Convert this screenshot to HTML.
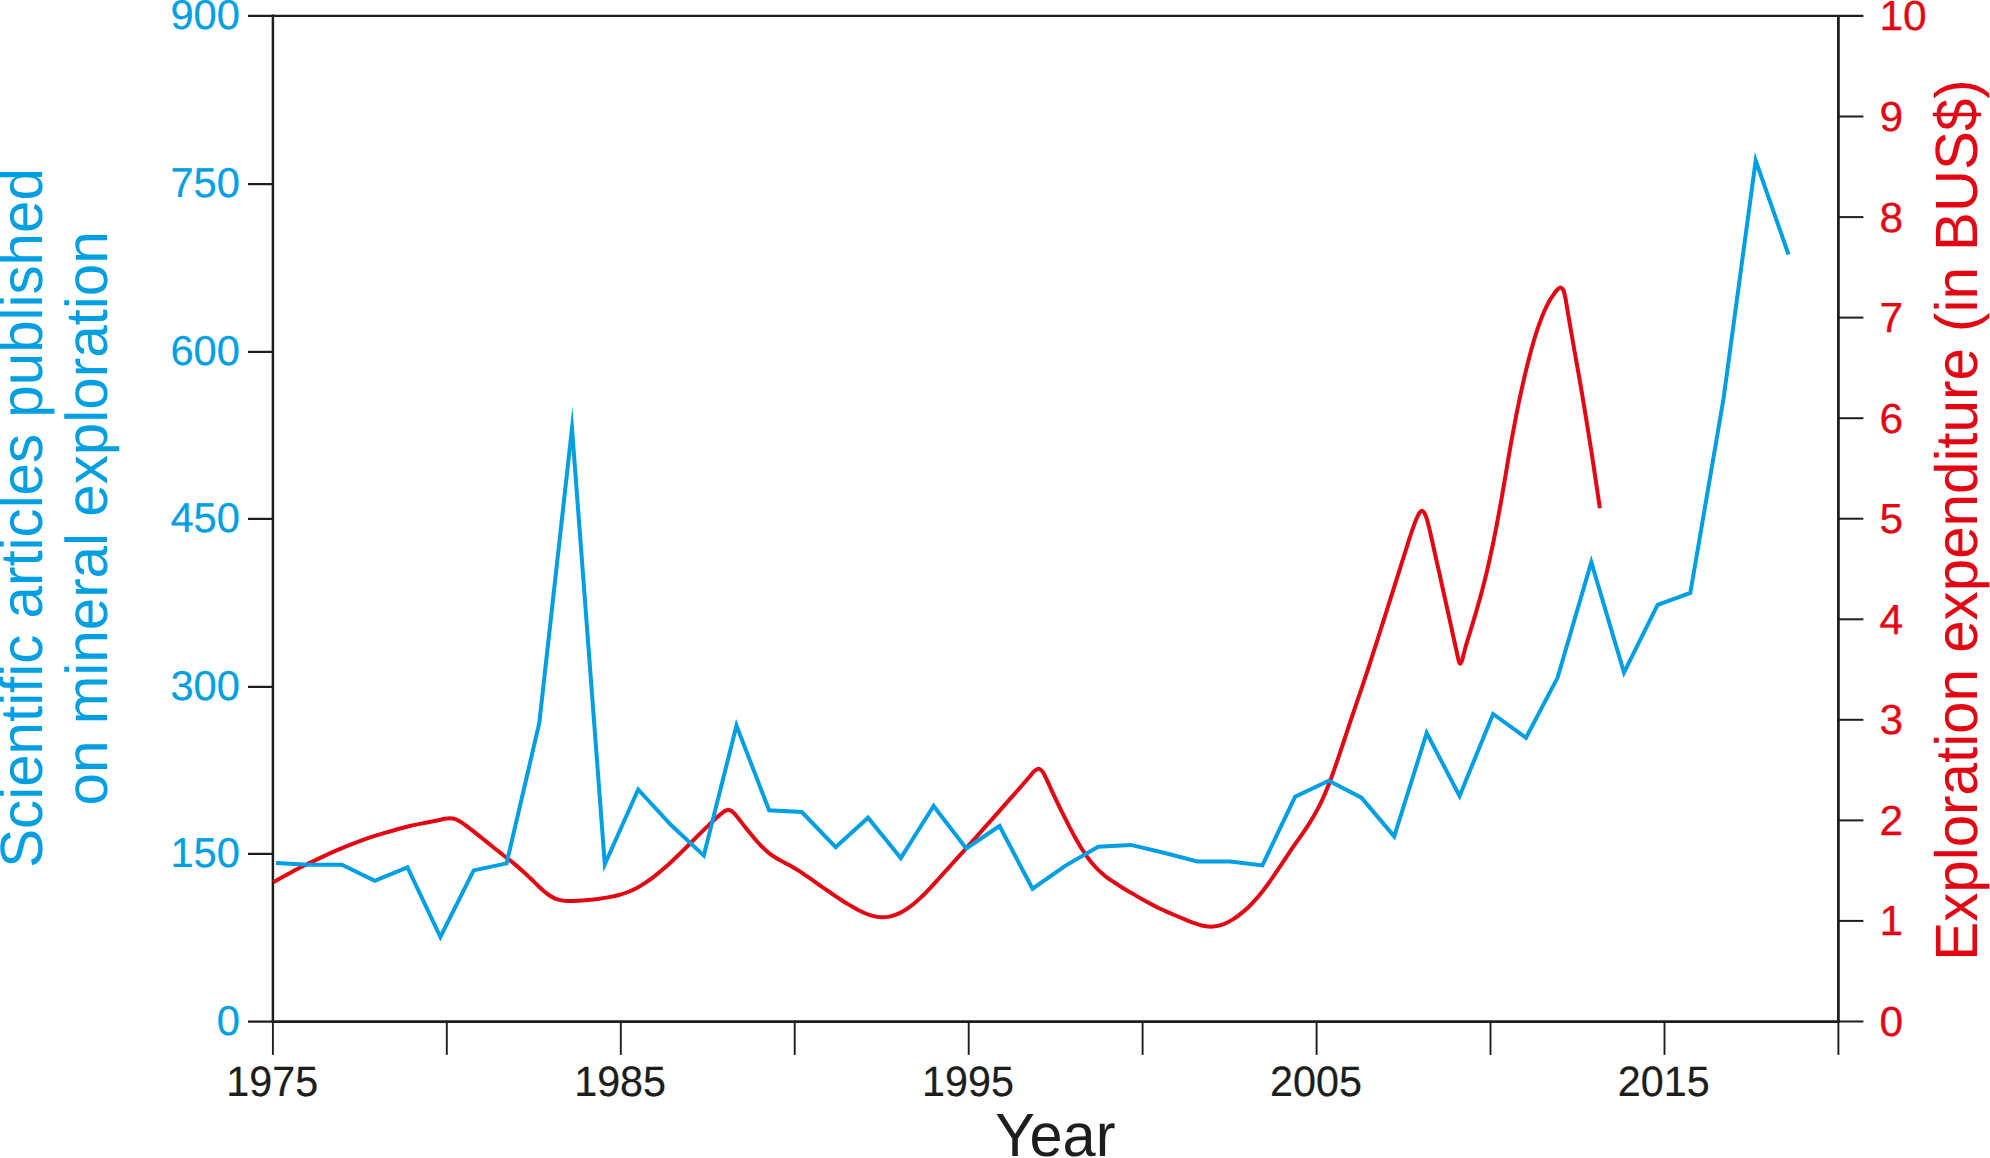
<!DOCTYPE html>
<html lang="en"><head><meta charset="utf-8"><title>Scientific articles vs exploration expenditure</title>
<style>html,body{margin:0;padding:0;background:#fff}body{width:1990px;height:1158px;overflow:hidden}svg{display:block}text{font-family:"Liberation Sans",Arial,Helvetica,sans-serif;text-rendering:geometricPrecision}</style></head><body>
<svg width="1990" height="1158" viewBox="0 0 1990 1158">
<rect width="1990" height="1158" fill="#fff"/>
<g stroke="#1d1d1b" fill="none" stroke-linecap="butt">
<path d="M248 15.95 H1863.4" stroke-width="2.2"/>
<path d="M272.9 14.6 V1021.5" stroke-width="2.5"/>
<path d="M1838.4 14.9 V1021.5" stroke-width="2.75"/>
<path d="M271.6 1021.5 H1839.8" stroke-width="2.75"/>
<g stroke-width="2.25">
<path d="M248 184.1 H272.9"/>
<path d="M248 351.9 H272.9"/>
<path d="M248 518.9 H272.9"/>
<path d="M248 686.9 H272.9"/>
<path d="M248 853.9 H272.9"/>
<path d="M248 1021.6 H272.9"/>
</g><g stroke-width="2">
<path d="M1838.4 116.5 H1863.4"/>
<path d="M1838.4 217.1 H1863.4"/>
<path d="M1838.4 317.6 H1863.4"/>
<path d="M1838.4 418.2 H1863.4"/>
<path d="M1838.4 518.7 H1863.4"/>
<path d="M1838.4 619.3 H1863.4"/>
<path d="M1838.4 719.8 H1863.4"/>
<path d="M1838.4 820.4 H1863.4"/>
<path d="M1838.4 920.9 H1863.4"/>
<path d="M1838.4 1021.5 H1863.4"/>
</g><g stroke-width="1.9">
<path d="M272.9 1021.5 V1054.9"/>
<path d="M446.8 1021.5 V1054.9"/>
<path d="M620.8 1021.5 V1054.9"/>
<path d="M794.7 1021.5 V1054.9"/>
<path d="M968.7 1021.5 V1054.9"/>
<path d="M1142.6 1021.5 V1054.9"/>
<path d="M1316.6 1021.5 V1054.9"/>
<path d="M1490.5 1021.5 V1054.9"/>
<path d="M1664.5 1021.5 V1054.9"/>
<path d="M1838.4 1021.5 V1054.9"/>
</g></g>
<text transform="translate(240.0 28.9) scale(1.0000 1.0000)" font-size="41.7" fill="#009fe3" stroke="#009fe3" stroke-width="0.20" stroke-linejoin="round" text-anchor="end">900</text>
<text transform="translate(240.0 197.1) scale(1.0000 1.0000)" font-size="41.7" fill="#009fe3" stroke="#009fe3" stroke-width="0.20" stroke-linejoin="round" text-anchor="end">750</text>
<text transform="translate(240.0 364.9) scale(1.0000 1.0000)" font-size="41.7" fill="#009fe3" stroke="#009fe3" stroke-width="0.20" stroke-linejoin="round" text-anchor="end">600</text>
<text transform="translate(240.0 531.9) scale(1.0000 1.0000)" font-size="41.7" fill="#009fe3" stroke="#009fe3" stroke-width="0.20" stroke-linejoin="round" text-anchor="end">450</text>
<text transform="translate(240.0 699.9) scale(1.0000 1.0000)" font-size="41.7" fill="#009fe3" stroke="#009fe3" stroke-width="0.20" stroke-linejoin="round" text-anchor="end">300</text>
<text transform="translate(240.0 866.9) scale(1.0000 1.0000)" font-size="41.7" fill="#009fe3" stroke="#009fe3" stroke-width="0.20" stroke-linejoin="round" text-anchor="end">150</text>
<text transform="translate(240.0 1034.6) scale(1.0000 1.0000)" font-size="41.7" fill="#009fe3" stroke="#009fe3" stroke-width="0.20" stroke-linejoin="round" text-anchor="end">0</text>
<text transform="translate(1879.4 30.4) scale(1.0000 0.9900)" font-size="42.5" fill="#e30613" stroke="#e30613" stroke-width="0.30" stroke-linejoin="round" text-anchor="start">10</text>
<text transform="translate(1879.4 131.0) scale(1.0000 0.9900)" font-size="42.5" fill="#e30613" stroke="#e30613" stroke-width="0.30" stroke-linejoin="round" text-anchor="start">9</text>
<text transform="translate(1879.4 231.6) scale(1.0000 0.9900)" font-size="42.5" fill="#e30613" stroke="#e30613" stroke-width="0.30" stroke-linejoin="round" text-anchor="start">8</text>
<text transform="translate(1879.4 332.1) scale(1.0000 0.9900)" font-size="42.5" fill="#e30613" stroke="#e30613" stroke-width="0.30" stroke-linejoin="round" text-anchor="start">7</text>
<text transform="translate(1879.4 432.7) scale(1.0000 0.9900)" font-size="42.5" fill="#e30613" stroke="#e30613" stroke-width="0.30" stroke-linejoin="round" text-anchor="start">6</text>
<text transform="translate(1879.4 533.2) scale(1.0000 0.9900)" font-size="42.5" fill="#e30613" stroke="#e30613" stroke-width="0.30" stroke-linejoin="round" text-anchor="start">5</text>
<text transform="translate(1879.4 633.8) scale(1.0000 0.9900)" font-size="42.5" fill="#e30613" stroke="#e30613" stroke-width="0.30" stroke-linejoin="round" text-anchor="start">4</text>
<text transform="translate(1879.4 734.3) scale(1.0000 0.9900)" font-size="42.5" fill="#e30613" stroke="#e30613" stroke-width="0.30" stroke-linejoin="round" text-anchor="start">3</text>
<text transform="translate(1879.4 834.9) scale(1.0000 0.9900)" font-size="42.5" fill="#e30613" stroke="#e30613" stroke-width="0.30" stroke-linejoin="round" text-anchor="start">2</text>
<text transform="translate(1879.4 935.4) scale(1.0000 0.9900)" font-size="42.5" fill="#e30613" stroke="#e30613" stroke-width="0.30" stroke-linejoin="round" text-anchor="start">1</text>
<text transform="translate(1879.4 1036.0) scale(1.0000 0.9900)" font-size="42.5" fill="#e30613" stroke="#e30613" stroke-width="0.30" stroke-linejoin="round" text-anchor="start">0</text>
<text transform="translate(272.2 1096.0) scale(0.9720 1.0000)" font-size="42.5" fill="#1d1d1b" stroke="#1d1d1b" stroke-width="0.20" stroke-linejoin="round" text-anchor="middle">1975</text>
<text transform="translate(620.1 1096.0) scale(0.9720 1.0000)" font-size="42.5" fill="#1d1d1b" stroke="#1d1d1b" stroke-width="0.20" stroke-linejoin="round" text-anchor="middle">1985</text>
<text transform="translate(968.0 1096.0) scale(0.9720 1.0000)" font-size="42.5" fill="#1d1d1b" stroke="#1d1d1b" stroke-width="0.20" stroke-linejoin="round" text-anchor="middle">1995</text>
<text transform="translate(1315.9 1096.0) scale(0.9720 1.0000)" font-size="42.5" fill="#1d1d1b" stroke="#1d1d1b" stroke-width="0.20" stroke-linejoin="round" text-anchor="middle">2005</text>
<text transform="translate(1663.8 1096.0) scale(0.9720 1.0000)" font-size="42.5" fill="#1d1d1b" stroke="#1d1d1b" stroke-width="0.20" stroke-linejoin="round" text-anchor="middle">2015</text>
<text transform="translate(1055.4 1156.3) scale(0.9950 1.0200)" font-size="59.8" fill="#1d1d1b" text-anchor="middle">Year</text>
<text transform="translate(42.0 518.0) rotate(-90) scale(0.9876 1.0120)" font-size="59.0" fill="#009fe3" text-anchor="middle">Scientific articles published</text>
<text transform="translate(106.9 518.4) rotate(-90) scale(0.9891 1.0000)" font-size="59.0" fill="#009fe3" text-anchor="middle">on mineral exploration</text>
<text transform="translate(1977.2 520.0) rotate(-90) scale(0.9882 1.0120)" font-size="59.0" fill="#e30613" text-anchor="middle">Exploration expenditure (in BUS$)</text>
<path d="M273.1 882.2 C279.6 878.6 286.1 874.9 292.7 871.4 C298.5 868.3 304.4 865.5 310.3 862.6 C318.6 858.6 326.9 854.5 335.4 850.8 C343.7 847.2 352.0 843.9 360.5 840.8 C368.8 837.8 377.2 835.2 385.6 832.7 C393.9 830.2 402.3 827.8 410.8 825.7 C416.6 824.3 422.5 823.5 428.3 822.3 C431.7 821.6 435.0 820.9 438.4 820.2 C440.5 819.8 442.5 819.2 444.6 818.8 C446.3 818.5 448.0 818.2 449.7 818.2 C451.4 818.2 453.1 818.4 454.7 818.9 C456.5 819.4 458.1 820.4 459.7 821.3 C461.9 822.6 464.0 824.1 466.0 825.6 C470.3 828.7 474.4 832.1 478.6 835.4 C482.8 838.7 486.9 842.1 491.1 845.5 C495.3 848.8 499.5 852.1 503.7 855.5 C507.5 858.4 511.3 861.4 515.0 864.4 C516.7 865.8 518.4 867.2 520.0 868.7 C522.5 870.9 525.0 873.2 527.5 875.5 C530.1 877.9 532.6 880.4 535.1 882.9 C537.6 885.2 540.0 887.7 542.6 890.0 C544.6 891.8 546.7 893.5 548.9 895.0 C550.9 896.4 553.0 897.6 555.2 898.6 C557.2 899.4 559.3 900.0 561.5 900.4 C564.0 900.9 566.5 901.0 569.0 901.0 C571.9 901.1 574.9 900.9 577.8 900.7 C581.1 900.5 584.5 900.2 587.8 899.9 C591.2 899.6 594.5 899.3 597.9 898.9 C601.2 898.5 604.6 898.0 607.9 897.4 C611.3 896.8 614.7 896.2 618.0 895.3 C621.4 894.4 624.7 893.3 628.0 892.0 C631.0 890.8 633.9 889.5 636.8 888.0 C639.8 886.4 642.7 884.6 645.6 882.7 C648.6 880.7 651.5 878.6 654.4 876.4 C657.4 874.0 660.3 871.6 663.2 869.1 C666.2 866.5 669.1 863.9 672.0 861.2 C675.0 858.4 677.9 855.6 680.8 852.8 C683.8 849.9 686.7 846.9 689.6 844.0 C692.5 841.1 695.5 838.1 698.4 835.2 C701.3 832.3 704.2 829.5 707.2 826.6 C709.7 824.2 712.2 821.8 714.7 819.5 C716.8 817.6 718.8 815.7 721.0 813.9 C722.2 812.9 723.4 811.8 724.8 811.1 C725.9 810.5 727.2 809.9 728.5 810.0 C729.9 810.1 731.2 810.7 732.3 811.6 C734.2 813.1 735.7 815.1 737.3 817.0 C740.3 820.7 743.1 824.6 746.1 828.3 C749.0 831.9 751.9 835.5 754.9 839.0 C757.3 841.8 759.8 844.6 762.5 847.2 C764.9 849.6 767.4 851.8 770.0 853.9 C772.1 855.5 774.3 856.9 776.5 858.2 C778.5 859.5 780.7 860.6 782.8 861.7 C784.9 862.9 787.0 864.0 789.1 865.1 C791.2 866.3 793.3 867.5 795.4 868.8 C797.5 870.0 799.6 871.3 801.7 872.7 C803.8 874.1 805.8 875.5 807.9 876.9 C810.0 878.3 812.1 879.8 814.2 881.3 C816.3 882.8 818.4 884.3 820.5 885.8 C822.6 887.2 824.7 888.7 826.8 890.2 C828.9 891.7 831.0 893.1 833.1 894.5 C835.2 895.9 837.2 897.3 839.3 898.7 C841.4 900.0 843.5 901.4 845.6 902.7 C847.7 904.0 849.8 905.2 851.9 906.5 C854.0 907.7 856.1 908.9 858.2 910.0 C860.3 911.0 862.4 912.1 864.5 913.0 C866.6 913.9 868.7 914.8 870.8 915.4 C872.8 916.0 874.9 916.5 877.0 916.9 C878.7 917.2 880.4 917.4 882.1 917.3 C884.6 917.3 887.1 917.0 889.6 916.6 C891.8 916.2 893.9 915.5 895.9 914.7 C898.1 913.9 900.2 912.9 902.2 911.7 C904.3 910.6 906.4 909.2 908.4 907.8 C910.6 906.3 912.7 904.7 914.7 903.0 C916.9 901.2 919.0 899.3 921.0 897.4 C923.2 895.4 925.2 893.3 927.3 891.2 C929.4 889.0 931.5 886.7 933.6 884.4 C935.7 882.1 937.7 879.8 939.8 877.5 C948.4 867.9 957.1 858.5 965.7 848.9 C976.4 836.9 987.0 824.8 997.7 812.8 C1006.1 803.4 1014.4 793.9 1022.8 784.5 C1025.4 781.6 1027.9 778.7 1030.4 775.8 C1031.8 774.1 1033.0 772.2 1034.7 770.8 C1035.8 769.8 1037.1 768.6 1038.5 768.7 C1040.0 768.8 1041.4 770.1 1042.3 771.3 C1044.2 773.8 1045.3 776.7 1046.7 779.5 C1048.5 783.2 1050.0 787.0 1051.7 790.7 C1054.6 796.9 1057.5 803.0 1060.5 809.1 C1063.4 814.9 1066.3 820.8 1069.3 826.6 C1071.7 831.3 1074.2 835.9 1076.8 840.4 C1079.6 845.3 1082.5 850.0 1085.6 854.7 C1087.5 857.6 1089.7 860.4 1091.9 863.0 C1093.9 865.4 1096.0 867.7 1098.2 869.9 C1100.2 871.8 1102.3 873.7 1104.5 875.4 C1106.5 877.1 1108.6 878.7 1110.8 880.2 C1114.9 883.0 1119.1 885.6 1123.3 888.2 C1127.4 890.8 1131.7 893.1 1135.9 895.6 C1138.1 896.9 1140.3 898.2 1142.6 899.4 C1146.7 901.7 1150.9 904.1 1155.1 906.2 C1159.2 908.3 1163.5 910.2 1167.7 912.1 C1171.9 914.0 1176.1 915.7 1180.3 917.5 C1184.5 919.2 1188.6 921.1 1192.8 922.6 C1196.1 923.8 1199.4 925.0 1202.9 925.7 C1206.2 926.3 1209.6 926.8 1212.9 926.6 C1216.3 926.4 1219.8 925.6 1223.0 924.4 C1226.5 923.1 1229.8 921.4 1233.0 919.4 C1236.6 917.2 1239.9 914.6 1243.1 911.9 C1246.6 908.9 1250.0 905.7 1253.1 902.3 C1256.7 898.6 1260.0 894.6 1263.2 890.5 C1266.7 886.0 1270.0 881.3 1273.2 876.7 C1276.7 871.7 1279.9 866.6 1283.3 861.6 C1286.6 856.7 1289.9 851.7 1293.3 846.7 C1296.6 841.9 1300.1 837.2 1303.4 832.3 C1306.0 828.6 1308.5 824.8 1310.9 820.9 C1313.1 817.3 1315.2 813.6 1317.2 809.9 C1319.0 806.6 1320.6 803.2 1322.2 799.8 C1323.7 796.7 1325.1 793.5 1326.4 790.2 C1328.2 785.9 1329.9 781.6 1331.5 777.2 C1333.2 772.6 1334.9 767.9 1336.5 763.2 C1338.6 756.9 1340.7 750.6 1342.8 744.4 C1344.9 738.1 1346.9 731.8 1349.0 725.6 C1351.1 719.3 1353.2 713.0 1355.3 706.8 C1357.4 700.6 1359.5 694.5 1361.6 688.3 C1363.7 682.1 1365.8 675.8 1367.9 669.5 C1370.5 661.5 1373.1 653.4 1375.7 645.4 C1378.0 638.1 1380.3 630.9 1382.6 623.7 C1384.7 617.2 1386.7 610.7 1388.8 604.2 C1390.9 597.5 1393.0 590.8 1395.1 584.1 C1397.2 577.4 1399.3 570.7 1401.4 564.0 C1403.5 557.4 1405.6 550.7 1407.7 544.1 C1409.3 539.0 1410.9 533.9 1412.7 528.9 C1413.9 525.5 1415.1 522.1 1416.5 518.8 C1417.4 516.7 1418.3 514.5 1419.6 512.6 C1420.2 511.7 1421.1 510.6 1422.1 510.7 C1423.3 510.8 1424.0 512.2 1424.6 513.2 C1425.8 515.4 1426.5 517.7 1427.2 520.1 C1428.4 524.3 1429.3 528.5 1430.3 532.7 C1432.0 540.2 1433.6 547.7 1435.3 555.2 C1437.0 562.8 1438.7 570.4 1440.4 577.9 C1442.1 585.4 1443.7 593.0 1445.4 600.5 C1447.1 608.0 1448.7 615.6 1450.4 623.1 C1452.0 630.4 1453.6 637.7 1455.2 645.0 C1456.0 648.7 1456.8 652.3 1457.6 656.0 C1458.0 657.9 1458.4 659.8 1459.0 661.6 C1459.3 662.4 1459.4 663.8 1460.2 663.7 C1461.1 663.6 1461.4 662.3 1461.7 661.4 C1462.5 659.4 1462.9 657.3 1463.4 655.3 C1464.3 651.9 1465.1 648.4 1466.1 645.0 C1467.5 640.2 1469.1 635.5 1470.5 630.7 C1472.6 623.7 1474.8 616.6 1476.8 609.6 C1479.0 601.9 1481.1 594.3 1483.1 586.7 C1484.9 579.9 1486.5 573.1 1488.1 566.2 C1489.9 558.6 1491.5 550.9 1493.1 543.3 C1494.4 536.9 1495.7 530.6 1496.9 524.2 C1498.4 516.2 1499.9 508.2 1501.3 500.2 C1504.7 480.8 1507.8 461.4 1511.2 442.0 C1512.8 433.2 1514.5 424.4 1516.2 415.6 C1517.2 410.5 1518.2 405.4 1519.3 400.4 C1520.5 394.6 1521.8 388.7 1523.1 382.9 C1524.3 377.5 1525.6 372.1 1526.9 366.7 C1528.1 361.8 1529.4 356.9 1530.7 351.9 C1532.1 346.8 1533.5 341.7 1535.1 336.6 C1536.4 332.2 1537.8 327.9 1539.4 323.6 C1541.0 319.3 1542.6 315.0 1544.5 310.7 C1546.0 307.4 1547.7 304.0 1549.5 300.8 C1551.0 298.2 1552.7 295.6 1554.5 293.2 C1555.6 291.6 1556.9 290.1 1558.3 288.8 C1559.0 288.2 1559.9 287.4 1560.8 287.6 C1561.9 287.9 1562.8 289.0 1563.3 290.1 C1564.3 292.3 1564.7 294.7 1565.2 297.0 C1566.2 301.8 1566.9 306.7 1567.7 311.5 C1568.8 317.8 1569.8 324.0 1570.9 330.3 C1572.1 337.4 1573.4 344.5 1574.6 351.5 C1575.9 358.6 1577.2 365.7 1578.4 372.8 C1579.7 380.1 1581.0 387.4 1582.2 394.8 C1583.4 401.8 1584.6 408.8 1585.7 415.8 C1587.9 429.3 1590.1 442.9 1592.2 456.5 C1594.8 473.7 1597.3 491.0 1599.9 508.2" fill="none" stroke="#e30613" stroke-width="4" stroke-linejoin="round"/>
<polyline points="276.0,862.9 308.0,864.8 341.9,864.8 374.7,880.8 407.5,867.3 440.4,937.0 473.7,870.4 506.6,863.4 539.3,723.0 572.0,428.4 604.8,864.2 638.2,789.5 670.8,824.8 703.8,855.6 736.5,725.6 769.1,810.3 801.8,812.0 835.7,847.2 868.0,817.7 900.8,858.0 933.6,806.0 966.3,848.5 999.5,826.0 1032.5,888.7 1065.6,865.6 1098.2,846.7 1130.9,844.9 1164.8,853.0 1197.3,861.5 1230.3,861.5 1262.4,865.4 1295.1,796.8 1328.8,780.8 1361.4,797.6 1394.2,836.4 1426.7,733.0 1459.6,795.9 1493.1,714.0 1526.0,737.8 1557.6,677.6 1591.3,562.1 1624.0,672.6 1657.6,604.8 1690.3,593.0 1723.6,398.3 1755.7,160.5 1788.5,254.5" fill="none" stroke="#009fe3" stroke-width="4" stroke-linejoin="miter" stroke-miterlimit="20"/>
</svg></body></html>
